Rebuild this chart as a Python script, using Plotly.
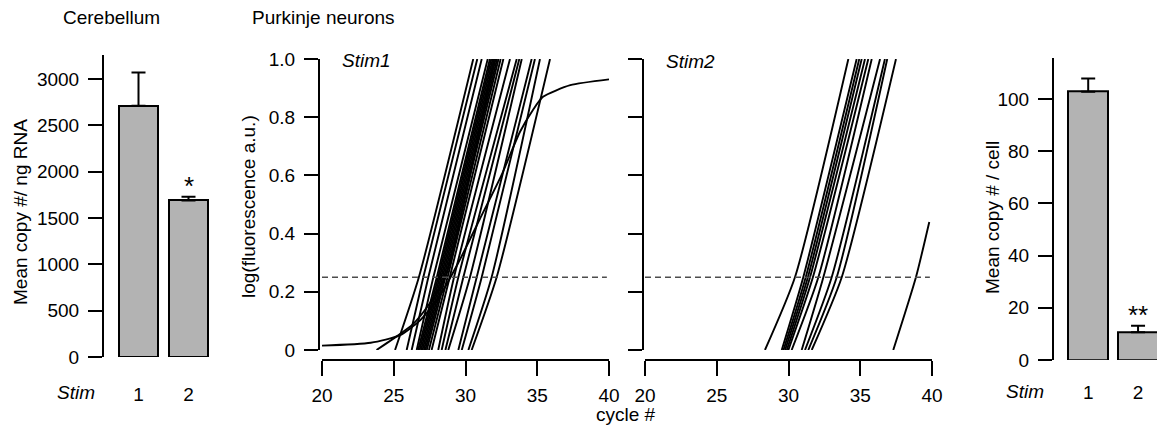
import plotly.graph_objects as go

W, H = 1157, 426
FONT = "Liberation Sans, Arial, sans-serif"
FS = 19

# ---------------- data ----------------
stim_groups = [1, 2]
cerebellum_mean = [2710, 1690]
cerebellum_err = [360, 40]
cell_mean = [102.8, 10.6]
cell_err = [5.1, 2.5]

threshold = 0.25
curve_levels = [0.0, 0.25, 1.0]

# Stim1: cycle where each trace leaves baseline, crosses threshold, reaches 1.0
stim1_start = [25.09, 25.9, 26.25, 26.6, 26.7, 26.8, 26.9, 27.0, 27.1, 27.2, 27.3,
               27.45, 27.64, 28.1, 28.34, 28.6, 28.8, 29.5, 29.74, 30.2, 30.43]
stim1_thr = [26.75, 27.06, 27.41, 27.76, 28.0, 28.1, 28.2, 28.3, 28.4, 28.5, 28.6,
             28.75, 28.9, 29.2, 29.5, 29.85, 30.31, 30.78, 31.13, 31.82, 32.17]
stim1_top = [30.54, 30.82, 31.13, 31.55, 31.7, 31.8, 31.9, 32.0, 32.1, 32.2, 32.3,
             32.45, 32.64, 33.1, 33.57, 33.75, 33.92, 34.61, 34.84, 35.19, 35.89]

# Stim1: slow-rising trace
stim1_slow_cycle = [23.8, 25.0, 26.36, 27.5, 28.6, 32.0]
stim1_slow_fluor = [0.0, 0.04, 0.09, 0.16, 0.25, 1.0]

# Stim1: plateauing trace
stim1_plateau_cycle = [20, 23.4, 25.4, 26.8, 28.0, 29.5, 31.0, 32.5, 33.8, 34.7, 35.4, 37.3, 40]
stim1_plateau_fluor = [0.015, 0.025, 0.05, 0.1, 0.17, 0.3, 0.45, 0.6, 0.75, 0.825, 0.87, 0.91, 0.93]

# Stim2
stim2_start = [28.36, 29.53, 29.65, 29.76, 29.88, 29.99, 30.22, 30.92, 31.15, 31.38, 31.62]
stim2_thr = [30.45, 31.03, 31.2, 31.35, 31.5, 31.7, 32.08, 32.43, 33.01, 33.36, 33.71]
stim2_top = [34.17, 34.75, 34.93, 35.10, 35.33, 35.56, 35.80, 36.38, 36.72, 36.88, 37.49]

stim2_late_cycle = [37.3, 38.88, 39.81]
stim2_late_fluor = [0.0, 0.25, 0.44]

threshold_span = [20, 39.85]


def px(x):
    return x / W


def py(y):
    return 1 - y / H


fig = go.Figure()

BAR_COLOR = "#b3b3b3"

# ---------------- left bars ----------------
fig.add_trace(go.Bar(
    x=stim_groups, y=cerebellum_mean, width=0.78,
    marker=dict(color=BAR_COLOR, line=dict(color="black", width=2)),
    error_y=dict(type="data", symmetric=False, array=cerebellum_err,
                 arrayminus=[0, 0], color="black", thickness=2, width=7),
    xaxis="x", yaxis="y", showlegend=False))

# ---------------- curves ----------------
LINE = dict(color="black", width=1.9, shape="spline", smoothing=0.6)


def add_curve(xs, ys, xa, ya):
    fig.add_trace(go.Scatter(x=xs, y=ys, mode="lines", line=LINE,
                             xaxis=xa, yaxis=ya, showlegend=False, hoverinfo="skip"))


for s, t, tp in zip(stim1_start, stim1_thr, stim1_top):
    add_curve([s, t, tp], curve_levels, "x2", "y2")
add_curve(stim1_slow_cycle, stim1_slow_fluor, "x2", "y2")
add_curve(stim1_plateau_cycle, stim1_plateau_fluor, "x2", "y2")

for s, t, tp in zip(stim2_start, stim2_thr, stim2_top):
    add_curve([s, t, tp], curve_levels, "x3", "y3")
add_curve(stim2_late_cycle, stim2_late_fluor, "x3", "y3")

for xa, ya in (("x2", "y2"), ("x3", "y3")):
    fig.add_trace(go.Scatter(x=threshold_span, y=[threshold, threshold], mode="lines",
                             line=dict(color="#4d4d4d", width=1.6, dash="6px,4px"),
                             xaxis=xa, yaxis=ya, showlegend=False, hoverinfo="skip"))

# ---------------- right bars ----------------
fig.add_trace(go.Bar(
    x=stim_groups, y=cell_mean, width=0.8,
    marker=dict(color=BAR_COLOR, line=dict(color="black", width=2)),
    error_y=dict(type="data", symmetric=False, array=cell_err,
                 arrayminus=[0, 0], color="black", thickness=2, width=7),
    xaxis="x4", yaxis="y4", showlegend=False))

tickfont = dict(family=FONT, size=FS, color="black")

yax_common = dict(showline=True, linecolor="black", linewidth=2, ticks="outside",
                  ticklen=14, tickwidth=2, tickcolor="black", tickfont=tickfont,
                  showgrid=False, zeroline=False, anchor="free", automargin=False,
                  ticklabelstandoff=5)
xbar_common = dict(showline=False, ticks="", showgrid=False, zeroline=False,
                   tickfont=tickfont, anchor="free", automargin=False,
                   tickvals=stim_groups, ticktext=[str(v) for v in stim_groups])
xcyc_common = dict(showline=True, linecolor="black", linewidth=2, ticks="outside",
                   ticklen=15, tickwidth=2, tickcolor="black", tickfont=tickfont,
                   showgrid=False, zeroline=False, anchor="free", automargin=False,
                   range=[20, 40], tickvals=[20, 25, 30, 35, 40], ticklabelstandoff=3)

fig.update_layout(
    width=W, height=H, margin=dict(l=0, r=0, t=0, b=0),
    paper_bgcolor="white", plot_bgcolor="rgba(0,0,0,0)",
    font=dict(family=FONT, size=FS, color="black"),
    bargap=0,
    # left bar chart
    xaxis=dict(xbar_common, domain=[px(103), px(215)], range=[0.29, 2.53], position=py(381)),
    yaxis=dict(yax_common, domain=[py(357), py(55)], range=[0, 3259], position=px(103),
               tickvals=[0, 500, 1000, 1500, 2000, 2500, 3000]),
    # Stim1 curves
    xaxis2=dict(xcyc_common, domain=[px(322), px(609)], position=py(360)),
    yaxis2=dict(yax_common, domain=[py(350), py(59)], range=[0, 1], position=px(319),
                tickvals=[0, 0.2, 0.4, 0.6, 0.8, 1.0], ticktext=["0", "0.2", "0.4", "0.6", "0.8", "1.0"]),
    # Stim2 curves
    xaxis3=dict(xcyc_common, domain=[px(645), px(932)], position=py(360)),
    yaxis3=dict(yax_common, domain=[py(350), py(59)], range=[0, 1], position=px(643),
                tickvals=[0, 0.2, 0.4, 0.6, 0.8, 1.0], showticklabels=False),
    # right bar chart
    xaxis4=dict(xbar_common, domain=[px(1053), 1.0], range=[0.294, 2.38], position=py(379)),
    yaxis4=dict(yax_common, domain=[py(360), py(58.3)], range=[0, 115.6], position=px(1053),
                tickvals=[0, 20, 40, 60, 80, 100]),
)


def ann(text, x, y, **kw):
    d = dict(text=text, x=px(x), y=py(y), xref="paper", yref="paper", showarrow=False,
             font=dict(family=FONT, size=FS, color="black"), xanchor="center", yanchor="middle")
    d.update(kw)
    fig.add_annotation(**d)


ann("Cerebellum", 111, 18)
ann("Purkinje neurons", 250, 18, xanchor="left")
ann("<i>Stim1</i>", 340, 60, xanchor="left")
ann("<i>Stim2</i>", 664, 62, xanchor="left")
ann("cycle #", 626, 414)
ann("<i>Stim</i>", 76, 392)
ann("<i>Stim</i>", 1025, 391)
ann("Mean copy #/ ng RNA", 20, 212, textangle=-90)
ann("log(fluorescence a.u.)", 248, 207, textangle=-90)
ann("Mean copy # / cell", 993, 218, textangle=-90)

fig.add_annotation(text="*", x=2, y=cerebellum_mean[1] + cerebellum_err[1], xref="x", yref="y",
                   showarrow=False, yanchor="bottom", yshift=-6,
                   font=dict(family=FONT, size=26, color="black"))
fig.add_annotation(text="**", x=2, y=cell_mean[1] + cell_err[1], xref="x4", yref="y4",
                   showarrow=False, yanchor="bottom", yshift=-6,
                   font=dict(family=FONT, size=26, color="black"))

fig.write_html("out.html",
               config={"displayModeBar": False},
               post_script="document.body.style.margin='0';document.body.style.padding='0';"
                           "document.documentElement.style.overflow='hidden';")
